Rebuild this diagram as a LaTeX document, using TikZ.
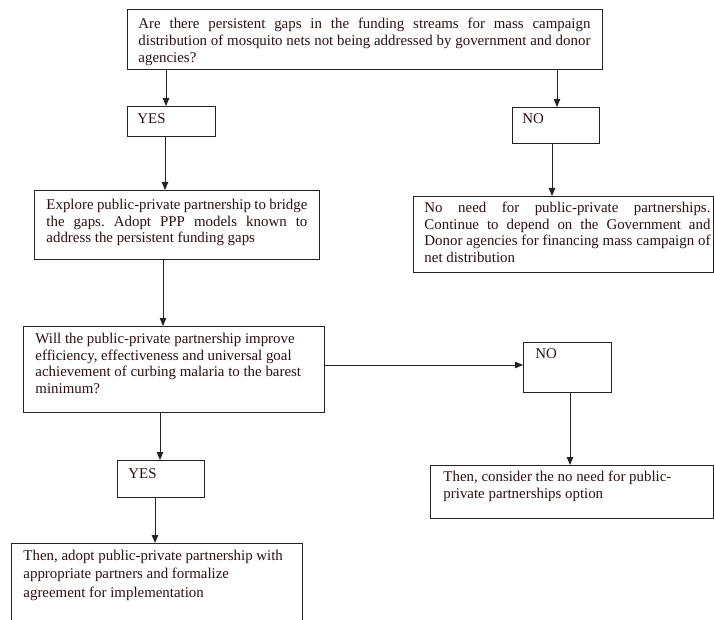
\documentclass[tikz,border=0pt]{standalone}
\usepackage{fontspec}
\setmainfont{Liberation Serif}
\usetikzlibrary{arrows.meta}
\definecolor{txt}{RGB}{45,15,15}
\definecolor{edge}{RGB}{35,35,35}
\tolerance=10000 \hbadness=10000 \hfuzz=6pt \vfuzz=6pt \vbadness=10000
\frenchspacing
% width, height, left pad, top pad, text width, text
\newcommand\bxt[6]{\begin{minipage}[c][#2][t]{#1}\vspace*{#4}\noindent\hspace*{#3}\parbox[t]{#5}{\strut #6}\end{minipage}}
\begin{document}
\begin{tikzpicture}[x=1pt,y=-1pt,
  font=\fontsize{14.9}{16.7}\selectfont,
  box/.style={draw=edge, line width=0.9pt, inner sep=0pt, anchor=north west, text=txt},
  arr/.style={draw=edge, line width=0.9pt, -{Triangle[length=8pt,width=6.5pt]}}]
\useasboundingbox (0,0) rectangle (714,620);
\clip (0,0) rectangle (714,620);

\node[box] (q1) at (127,9) {\bxt{475pt}{60pt}{11pt}{7.5pt}{452pt}{Are there persistent gaps in the funding streams for mass campaign\linebreak distribution of mosquito nets not being addressed by government and donor\linebreak agencies?}};
\node[box] (yes1) at (127,106) {\bxt{88pt}{30pt}{10pt}{5.3pt}{70pt}{YES}};
\node[box] (no1) at (512,107) {\bxt{87pt}{36pt}{10pt}{4.3pt}{70pt}{NO}};
\node[box] (explore) at (34,190) {\bxt{285pt}{69pt}{12pt}{7.3pt}{261pt}{Explore public-private partnership to bridge\linebreak the gaps. Adopt PPP models known to\linebreak address the persistent funding gaps}};
\node[box] (noneed) at (413,196) {\bxt{300pt}{76pt}{11pt}{4.3pt}{286pt}{No need for public-private partnerships.\linebreak Continue to depend on the Government and\linebreak Donor agencies for financing mass campaign of\linebreak net distribution}};
\node[box] (will) at (23,326) {\bxt{301pt}{86pt}{12pt}{5.3pt}{287pt}{\raggedright Will the public-private partnership improve\\ efficiency, effectiveness and universal goal\\ achievement of curbing malaria to the barest\\ minimum?}};
\node[box] (no2) at (523,342) {\bxt{88pt}{50pt}{12pt}{4.3pt}{70pt}{NO}};
\node[box] (consider) at (430,465) {\bxt{283pt}{53pt}{13pt}{4.3pt}{268pt}{\raggedright Then, consider the no need for public-\\ private partnerships option}};
\node[box] (yes2) at (117,460) {\bxt{87pt}{37pt}{11pt}{6.3pt}{70pt}{YES}};
\node[box] (adopt) at (11,543) {\bxt{291pt}{95pt}{12pt}{5.3pt}{275pt}{\fontsize{14.9}{18.5}\selectfont\raggedright Then, adopt public-private partnership with\\ appropriate partners and formalize\\ agreement for implementation}};

\coordinate (cA) at (166,0);
\coordinate (cB) at (557,0);
\coordinate (cC) at (165,0);
\coordinate (cD) at (552,0);
\coordinate (cE) at (163,0);
\coordinate (cF) at (570,0);
\coordinate (cG) at (160,0);
\coordinate (cH) at (155,0);
\coordinate (rY) at (0,365);

\draw[arr] (q1.south -| cA) -- (yes1.north -| cA);
\draw[arr] (q1.south -| cB) -- (no1.north -| cB);
\draw[arr] (yes1.south -| cC) -- (explore.north -| cC);
\draw[arr] (no1.south -| cD) -- (noneed.north -| cD);
\draw[arr] (explore.south -| cE) -- (will.north -| cE);
\draw[arr] (will.east |- rY) -- (no2.west |- rY);
\draw[arr] (no2.south -| cF) -- (consider.north -| cF);
\draw[arr] (will.south -| cG) -- (yes2.north -| cG);
\draw[arr] (yes2.south -| cH) -- (adopt.north -| cH);
\end{tikzpicture}
\end{document}
